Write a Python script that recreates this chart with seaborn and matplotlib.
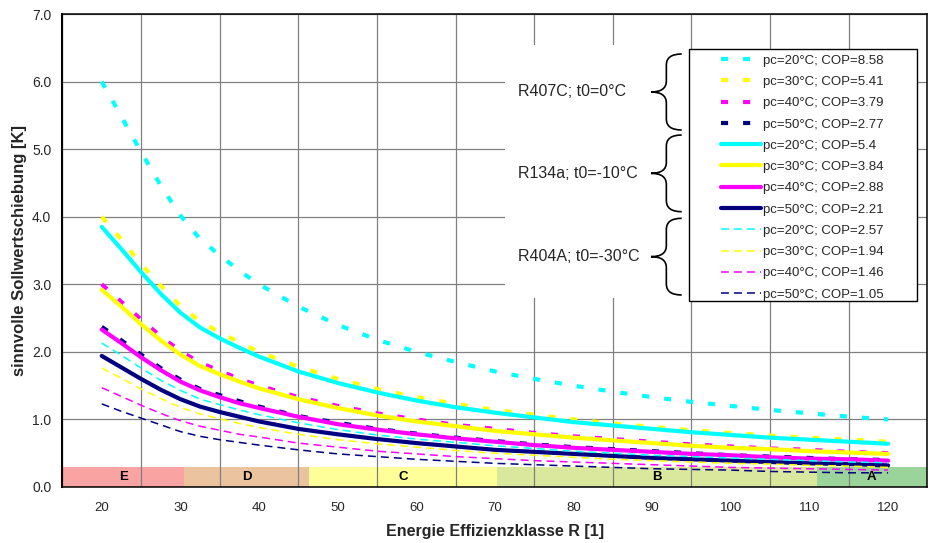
import numpy as np
import pandas as pd
import matplotlib
matplotlib.use('Agg')
import matplotlib.pyplot as plt
from matplotlib.patches import Rectangle, PathPatch
from matplotlib.path import Path
from matplotlib.lines import Line2D
import seaborn as sns

# Energie Effizienzklasse R (read every 2.5 units up to 40, then every 5)
r_values = [20, 22.5, 25, 27.5, 30, 32.5, 35, 37.5, 40, 45, 50, 55, 60, 65, 70,
            75, 80, 85, 90, 95, 100, 105, 110, 115, 120]

# R407C; t0=0°C  (thick dotted)
r407c_pc20 = [6.00, 5.48, 4.96, 4.46, 4.02, 3.67, 3.43, 3.20, 3.00, 2.67, 2.40, 2.18, 2.00,
              1.85, 1.71, 1.60, 1.50, 1.41, 1.33, 1.26, 1.20, 1.14, 1.09, 1.04, 1.00]
r407c_pc30 = [4.00, 3.66, 3.30, 2.98, 2.68, 2.45, 2.29, 2.14, 2.00, 1.78, 1.60, 1.45, 1.33,
              1.23, 1.14, 1.07, 1.00, 0.94, 0.89, 0.84, 0.80, 0.76, 0.73, 0.70, 0.67]
r407c_pc40 = [3.00, 2.74, 2.48, 2.23, 2.01, 1.84, 1.72, 1.60, 1.50, 1.33, 1.20, 1.09, 1.00,
              0.92, 0.86, 0.80, 0.75, 0.71, 0.67, 0.63, 0.60, 0.57, 0.55, 0.52, 0.50]
r407c_pc50 = [2.37, 2.17, 1.96, 1.76, 1.59, 1.45, 1.36, 1.27, 1.19, 1.05, 0.95, 0.86, 0.79,
              0.73, 0.68, 0.63, 0.59, 0.56, 0.53, 0.50, 0.47, 0.45, 0.43, 0.41, 0.40]

# R134a; t0=-10°C  (thick solid)
r134a_pc20 = [3.85, 3.52, 3.18, 2.86, 2.58, 2.36, 2.20, 2.06, 1.93, 1.71, 1.54, 1.40, 1.28,
              1.18, 1.10, 1.03, 0.96, 0.91, 0.86, 0.81, 0.77, 0.73, 0.70, 0.67, 0.64]
r134a_pc30 = [2.92, 2.67, 2.41, 2.17, 1.96, 1.79, 1.67, 1.56, 1.46, 1.30, 1.17, 1.06, 0.97,
              0.90, 0.83, 0.78, 0.73, 0.69, 0.65, 0.61, 0.58, 0.56, 0.53, 0.51, 0.49]
r134a_pc40 = [2.33, 2.13, 1.92, 1.73, 1.56, 1.43, 1.33, 1.24, 1.17, 1.04, 0.93, 0.85, 0.78,
              0.72, 0.67, 0.62, 0.58, 0.55, 0.52, 0.49, 0.47, 0.44, 0.42, 0.41, 0.39]
r134a_pc50 = [1.94, 1.77, 1.60, 1.44, 1.30, 1.19, 1.11, 1.04, 0.97, 0.86, 0.78, 0.71, 0.65,
              0.60, 0.55, 0.52, 0.49, 0.46, 0.43, 0.41, 0.39, 0.37, 0.35, 0.34, 0.32]

# R404A; t0=-30°C  (thin dashed)
r404a_pc20 = [2.13, 1.95, 1.76, 1.58, 1.43, 1.30, 1.22, 1.14, 1.07, 0.95, 0.85, 0.77, 0.71,
              0.66, 0.61, 0.57, 0.53, 0.50, 0.47, 0.45, 0.43, 0.41, 0.39, 0.37, 0.36]
r404a_pc30 = [1.76, 1.61, 1.45, 1.31, 1.18, 1.08, 1.01, 0.94, 0.88, 0.78, 0.70, 0.64, 0.59,
              0.54, 0.50, 0.47, 0.44, 0.41, 0.39, 0.37, 0.35, 0.34, 0.32, 0.31, 0.29]
r404a_pc40 = [1.47, 1.34, 1.21, 1.09, 0.98, 0.90, 0.84, 0.78, 0.74, 0.65, 0.59, 0.53, 0.49,
              0.45, 0.42, 0.39, 0.37, 0.35, 0.33, 0.31, 0.29, 0.28, 0.27, 0.26, 0.25]
r404a_pc50 = [1.23, 1.12, 1.02, 0.92, 0.82, 0.75, 0.70, 0.66, 0.62, 0.55, 0.49, 0.45, 0.41,
              0.38, 0.35, 0.33, 0.31, 0.29, 0.27, 0.26, 0.25, 0.23, 0.22, 0.21, 0.21]

legend_labels = ['pc=20°C; COP=8.58', 'pc=30°C; COP=5.41', 'pc=40°C; COP=3.79', 'pc=50°C; COP=2.77',
                 'pc=20°C; COP=5.4', 'pc=30°C; COP=3.84', 'pc=40°C; COP=2.88', 'pc=50°C; COP=2.21',
                 'pc=20°C; COP=2.57', 'pc=30°C; COP=1.94', 'pc=40°C; COP=1.46', 'pc=50°C; COP=1.05']
group_labels = ['R407C; t0=0°C', 'R134a; t0=-10°C', 'R404A; t0=-30°C']

# efficiency class bands along the bottom
band_labels = ['E', 'D', 'C', 'B', 'A']
band_start = [15.0, 30.5, 46.3, 70.3, 110.9]
band_end = [30.5, 46.3, 70.3, 110.9, 125.0]
band_top = 0.30

series = [r407c_pc20, r407c_pc30, r407c_pc40, r407c_pc50,
          r134a_pc20, r134a_pc30, r134a_pc40, r134a_pc50,
          r404a_pc20, r404a_pc30, r404a_pc40, r404a_pc50]

pc_colors = ['#00FFFF', '#FFFF00', '#FF00FF', '#000080']
band_colors = ['#F9A3A3', '#EBC39E', '#FFFF99', '#D9E89C', '#9AD49A']
group_styles = [
    dict(linewidth=3.0, linestyle=(0, (1.7, 3.6))),
    dict(linewidth=3.0, linestyle='-'),
    dict(linewidth=1.1, linestyle=(0, (5.2, 3.3))),
]

sns.set_style('white')
plt.rcParams['font.family'] = ['Liberation Sans', 'DejaVu Sans']

W, H = 935, 543
fig = plt.figure(figsize=(W / 100, H / 100), dpi=100)
ax = fig.add_axes([62.4 / W, 1 - 487 / H, 865 / W, 473 / H])

# bands first so the grid and curves sit on top
for i, lab in enumerate(band_labels):
    ax.bar(band_start[i], band_top, width=band_end[i] - band_start[i], align='edge',
           color=band_colors[i], edgecolor='none', zorder=0.3)
    ax.text((band_start[i] + band_end[i]) / 2, band_top / 2, lab, ha='center', va='center',
            fontsize=9.5, fontweight='bold', color='black', zorder=0.4)

df = pd.DataFrame({'R': r_values})
for k, vals in enumerate(series):
    df['s%d' % k] = vals

handles = []
for k, vals in enumerate(series):
    style = group_styles[k // 4]
    sns.lineplot(data=df, x='R', y='s%d' % k, ax=ax, color=pc_colors[k % 4],
                 zorder=2 + k * 0.01, **style)
    handles.append(Line2D([], [], color=pc_colors[k % 4], **style))

ax.set_xlim(15, 125)
ax.set_ylim(0, 7)
ax.set_xticks(np.arange(15, 126, 10))
ax.set_xticklabels([])
ax.set_xticks(np.arange(20, 121, 10), minor=True)
ax.set_xticklabels([str(v) for v in range(20, 121, 10)], minor=True)
ax.set_yticks(np.arange(0, 7.01, 1))
ax.set_yticklabels(['%.1f' % v for v in np.arange(0, 7.01, 1)])
ax.tick_params(axis='x', which='major', direction='out', length=5, width=1, color='black')
ax.tick_params(axis='x', which='minor', length=0, pad=11, labelsize=9.5)
ax.tick_params(axis='y', direction='out', length=4, width=1, color='black', pad=4, labelsize=10)
ax.set_axisbelow(True)
ax.grid(True, which='major', color='#808080', linewidth=0.9)

for side in ['left', 'bottom', 'top', 'right']:
    ax.spines[side].set_visible(True)
    ax.spines[side].set_color('black')
    ax.spines[side].set_linewidth(1.1)
ax.spines['left'].set_linewidth(1.5)

ax.set_xlabel('Energie Effizienzklasse R [1]', fontsize=11.5, fontweight='bold')
ax.set_ylabel('sinnvolle Sollwertschiebung [K]', fontsize=12, fontweight='bold')
ax.xaxis.set_label_coords(0.5, (487 - 524) / 473)
ax.yaxis.set_label_coords((27 - 62.4) / 865, 0.5)


def px_ax(x, y):
    return (x - 62.4) / 865, (487 - y) / 473


# white box behind the group labels and the framed legend box
x0, y0 = px_ax(505, 298)
x1, y1 = px_ax(689, 45)
ax.add_patch(Rectangle((x0, y0), x1 - x0, y1 - y0, transform=ax.transAxes,
                       facecolor='white', edgecolor='none', zorder=3))
x0, y0 = px_ax(689, 301)
x1, y1 = px_ax(917, 49)
ax.add_patch(Rectangle((x0, y0), x1 - x0, y1 - y0, transform=ax.transAxes,
                       facecolor='white', edgecolor='black', linewidth=1.0, zorder=3))

leg = ax.legend(handles, legend_labels, loc='upper left', bbox_to_anchor=px_ax(721, 54.5),
                frameon=False, fontsize=9.5, handlelength=3.0, handletextpad=0.15,
                labelspacing=0.685, borderpad=0, borderaxespad=0)
leg.set_zorder(5)

# group labels with curly braces
brace_ranges = [(54, 130), (135, 211.7), (218.3, 295)]
for lab, (yt, yb) in zip(group_labels, brace_ranges):
    tx, ty = px_ax(518.5, (yt + yb) / 2)
    ax.text(tx, ty, lab, transform=ax.transAxes, ha='left', va='center',
            fontsize=11.5, zorder=4)

    x_tip, x_arm, r = 651, 681.7, 11
    xm = (x_tip + x_arm) / 2
    yc = (yt + yb) / 2
    pts = [(x_arm, yt), (xm, yt), (xm, yt + r), (xm, yc - r), (xm, yc), (x_tip, yc),
           (xm, yc), (xm, yc + r), (xm, yb - r), (xm, yb), (x_arm, yb)]
    codes = [Path.MOVETO, Path.CURVE3, Path.CURVE3, Path.LINETO, Path.CURVE3, Path.CURVE3,
             Path.CURVE3, Path.CURVE3, Path.LINETO, Path.CURVE3, Path.CURVE3]
    verts = [(x / W, 1 - y / H) for x, y in pts]
    fig.add_artist(PathPatch(Path(verts, codes), transform=fig.transFigure,
                             facecolor='none', edgecolor='black', linewidth=1.2, zorder=6))

fig.savefig('out.png', dpi=100, facecolor='white')
